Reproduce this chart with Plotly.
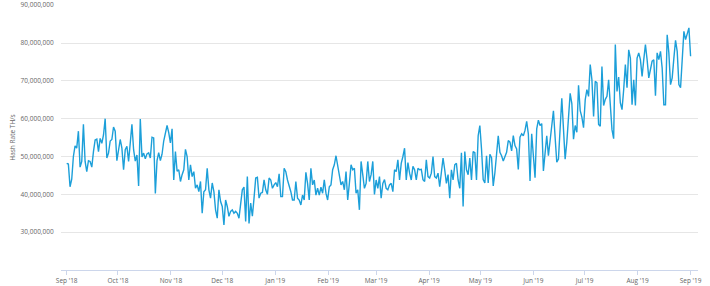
import pandas as pd
import plotly.graph_objects as go

# Hash rate, millions of TH/s (roughly daily, Sep 2018 - Sep 2019)
seg_sep_oct = [48.2, 48.0, 42.0, 44.0, 50.0, 52.8, 52.2, 56.7, 47.2, 48.7,
               58.5, 48.7, 46.0, 48.9, 48.7, 47.2, 51.3, 54.4, 54.6, 51.3,
               54.8, 53.5, 55.7, 60.0, 49.6, 50.9, 54.1, 54.5, 57.8, 56.7,
               48.9, 51.4, 54.5, 52.2, 46.5, 51.8, 52.7, 48.7, 54.5, 58.5,
               51.8, 48.8, 50.4, 42.2, 59.9, 49.9, 50.9, 49.4, 50.7, 51.0,
               49.6, 55.1, 54.9, 40.2, 48.9, 51.0, 48.9, 50.6]
seg_nov_dec = [54.1, 56.7, 58.2, 56.3, 53.6, 57.3, 43.8, 51.3, 46.1, 46.5,
               43.4, 45.2, 46.5, 51.9, 50.0, 43.8, 47.8, 44.7, 46.0, 41.6,
               42.5, 40.7, 43.4, 35.0, 40.7, 41.2, 46.9, 41.2, 39.0, 43.0,
               40.7, 35.9, 33.7, 41.2, 38.1, 36.8, 31.9, 38.5, 36.8, 34.2,
               35.5, 35.9, 35.0, 35.5, 35.0, 33.7, 38.5, 41.2, 41.9, 32.8,
               44.7, 32.3, 37.7, 34.2, 39.0, 44.3, 44.5, 39.0, 40.3, 40.5,
               43.8, 41.2, 40.0, 44.3]
seg_jan_feb = [43.8, 41.6, 42.5, 43.1, 42.0, 45.4, 39.4, 39.4, 46.9, 46.0,
               43.8, 42.5, 40.7, 38.5, 38.5, 43.4, 39.0, 38.5, 37.2, 39.8,
               38.5, 45.8, 42.9, 38.5, 46.9, 42.5, 43.8, 39.8, 41.6, 39.8,
               41.9, 40.3, 43.8, 40.3, 38.5, 42.0, 42.5, 46.5, 47.8, 50.2,
               47.4, 45.6, 42.5, 43.4, 41.2, 46.0, 38.5, 42.9, 47.8, 46.5,
               46.9, 40.3, 41.2, 35.9, 48.7, 45.2, 41.6, 42.9, 48.7, 43.4,
               45.2]
seg_mar_apr = [48.7, 40.0, 43.8, 41.6, 44.7, 39.0, 42.9, 43.9, 41.6, 41.2,
               42.5, 42.9, 40.7, 46.5, 46.0, 49.1, 43.8, 48.2, 50.0, 52.2,
               43.8, 48.4, 45.6, 43.8, 47.4, 46.5, 43.8, 46.9, 46.5, 46.6,
               43.9, 43.4, 49.1, 44.7, 44.3, 45.6, 50.0, 44.7, 44.3, 45.6,
               42.0, 46.5, 49.6, 46.5, 42.9, 45.2, 39.0, 46.5, 43.8, 47.8,
               48.2, 43.8, 41.6, 51.0, 36.8, 51.3, 46.5, 45.2, 49.6, 43.8,
               51.3, 51.0, 43.8]
seg_may_jun = [55.5, 58.2, 52.0, 43.9, 43.0, 50.2, 43.0, 50.6, 49.7, 42.2,
               45.7, 52.0, 55.5, 51.1, 50.2, 48.8, 50.2, 51.1, 54.2, 53.8,
               51.5, 55.5, 52.9, 52.0, 46.6, 55.1, 56.0, 55.5, 56.9, 59.3,
               56.0, 43.5, 56.0, 51.1, 44.4, 57.3, 59.6, 58.2, 58.7, 46.2,
               52.0, 55.5, 50.2, 54.6, 57.7, 62.1, 55.1, 48.5, 49.3, 56.0,
               65.4, 57.3, 49.3, 53.8, 59.1, 66.7, 64.0, 54.6, 58.2, 56.4,
               68.8, 62.1, 60.4]
seg_jul_aug = [57.6, 65.0, 67.7, 65.9, 74.3, 70.3, 60.6, 69.9, 69.5, 58.5,
               58.0, 73.8, 63.5, 65.1, 65.9, 70.3, 62.4, 57.1, 54.7, 79.6,
               67.2, 71.0, 64.2, 62.4, 67.7, 74.3, 68.2, 78.2, 76.0, 63.7,
               70.3, 63.5, 76.0, 77.4, 75.6, 71.2, 75.6, 79.6, 75.6, 70.8,
               73.0, 75.2, 75.6, 66.1, 77.4, 75.6, 77.8, 73.4, 63.7, 63.7,
               82.2, 77.4, 69.0, 70.8, 76.0, 80.7, 77.8, 69.0, 68.2, 75.6,
               83.1, 80.9, 82.6, 84.0, 76.5]

values_m = seg_sep_oct + seg_nov_dec + seg_jan_feb + seg_mar_apr + seg_may_jun + seg_jul_aug
hash_rate = [v * 1_000_000 for v in values_m]
first_day = "2018-09-01"
last_day = "2019-09-01"
dates = pd.date_range(first_day, last_day, periods=len(hash_rate))

y_ticks = [30_000_000, 40_000_000, 50_000_000, 60_000_000, 70_000_000, 80_000_000, 90_000_000]

fig = go.Figure()
fig.add_trace(go.Scatter(
    x=dates, y=hash_rate, mode="lines",
    line=dict(color="#1c9fd9", width=1.4),
    hoverinfo="x+y", showlegend=False,
))

font_family = "Open Sans, DejaVu Sans, sans-serif"
fig.update_layout(
    width=710, height=286,
    margin=dict(l=61, r=12, t=5, b=16),
    paper_bgcolor="white", plot_bgcolor="white",
    font=dict(family=font_family, size=6.5, color="#666666"),
    xaxis=dict(
        type="date", automargin=False,
        range=["2018-08-28 16:00", "2019-09-05 08:00"],
        dtick="M1", tick0="2018-09-01", tickformat="%b '%y",
        ticks="outside", ticklen=4, tickcolor="#ccd6eb", tickwidth=1,
        showline=True, linecolor="#ccd6eb", linewidth=1,
        showgrid=False, zeroline=False,
        tickfont=dict(size=6.5, color="#666666"),
    ),
    yaxis=dict(
        automargin=False,
        range=[20_000_000, 90_050_000],
        tickvals=y_ticks, tickformat=",d",
        showgrid=True, gridcolor="#e6e6e6", gridwidth=1,
        zeroline=False, showline=False,
        ticks="outside", ticklen=5, tickcolor="rgba(0,0,0,0)",
        tickfont=dict(size=6.5, color="#666666"),
        title=dict(text="Hash Rate TH/s", font=dict(size=6.5, color="#666666"), standoff=4),
    ),
)

fig.write_html("out.html")
